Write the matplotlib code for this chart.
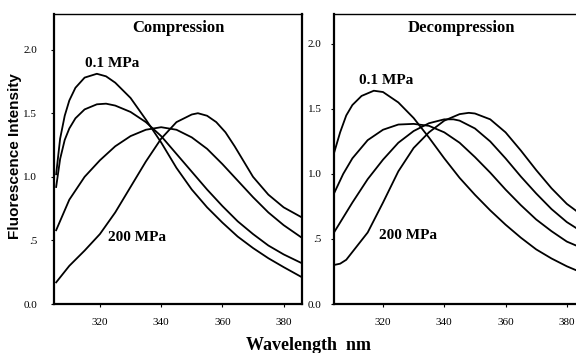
import numpy as np
import matplotlib
matplotlib.use("Agg")
import matplotlib.pyplot as plt

# compression spectra (wavelength nm, intensity)
comp_wl_a = [305.7, 307, 308.5, 310, 312, 315, 319, 322, 325, 330, 335, 340, 345, 350, 355, 360, 365, 370, 375, 380, 386]
comp_a = [1.02, 1.30, 1.48, 1.60, 1.70, 1.78, 1.81, 1.79, 1.74, 1.62, 1.45, 1.27, 1.07, 0.90, 0.76, 0.64, 0.53, 0.44, 0.36, 0.29, 0.21]

comp_wl_b = [305.7, 307, 308.5, 310, 312, 315, 319, 322, 325, 330, 335, 340, 345, 350, 355, 360, 365, 370, 375, 380, 386]
comp_b = [0.92, 1.14, 1.29, 1.38, 1.46, 1.53, 1.57, 1.575, 1.56, 1.51, 1.43, 1.32, 1.18, 1.04, 0.90, 0.77, 0.65, 0.55, 0.46, 0.39, 0.32]

comp_wl_c = [305.7, 310, 315, 320, 325, 330, 335, 340, 345, 350, 355, 360, 365, 370, 375, 380, 386]
comp_c = [0.58, 0.82, 1.00, 1.13, 1.24, 1.32, 1.37, 1.39, 1.37, 1.31, 1.22, 1.10, 0.97, 0.84, 0.72, 0.62, 0.52]

comp_wl_d = [305.7, 310, 315, 320, 325, 330, 335, 340, 345, 350, 352, 355, 358, 361, 364, 367, 370, 375, 380, 386]
comp_d = [0.17, 0.30, 0.42, 0.55, 0.72, 0.92, 1.12, 1.30, 1.43, 1.49, 1.50, 1.48, 1.43, 1.35, 1.24, 1.12, 1.00, 0.86, 0.76, 0.68]

# decompression spectra
decomp_wl_a = [304, 306, 308, 310, 313, 317, 320, 325, 330, 335, 340, 345, 350, 355, 360, 365, 370, 375, 380, 384]
decomp_a = [1.16, 1.32, 1.45, 1.53, 1.60, 1.64, 1.63, 1.55, 1.43, 1.28, 1.12, 0.97, 0.84, 0.72, 0.61, 0.51, 0.42, 0.35, 0.29, 0.25]

decomp_wl_b = [304, 307, 310, 315, 320, 325, 330, 335, 340, 345, 350, 355, 360, 365, 370, 375, 380, 384]
decomp_b = [0.85, 1.00, 1.12, 1.26, 1.34, 1.38, 1.385, 1.37, 1.32, 1.24, 1.13, 1.01, 0.88, 0.76, 0.65, 0.56, 0.48, 0.44]

decomp_wl_c = [304, 310, 315, 320, 325, 330, 335, 340, 343, 345, 350, 355, 360, 365, 370, 375, 380, 384]
decomp_c = [0.55, 0.78, 0.96, 1.11, 1.24, 1.33, 1.39, 1.42, 1.42, 1.41, 1.35, 1.25, 1.12, 0.98, 0.85, 0.73, 0.63, 0.57]

decomp_wl_d = [304, 306, 308, 310, 315, 320, 325, 330, 335, 340, 345, 348, 350, 355, 360, 365, 370, 375, 380, 384]
decomp_d = [0.30, 0.31, 0.34, 0.40, 0.55, 0.78, 1.02, 1.20, 1.32, 1.41, 1.46, 1.47, 1.465, 1.42, 1.32, 1.18, 1.03, 0.89, 0.77, 0.70]

x_ticks = [320, 340, 360, 380]
y_ticks = [0.0, 0.5, 1.0, 1.5, 2.0]
y_tick_labels = ["0.0", ".5", "1.0", "1.5", "2.0"]

serif = ["Liberation Serif", "DejaVu Serif"]

fig = plt.figure(figsize=(5.76, 3.53), dpi=100)
ax1 = fig.add_axes([54 / 576, 49 / 353, 248 / 576, 290 / 353])
ax2 = fig.add_axes([334 / 576, 49 / 353, 242 / 576, 290 / 353])


def style_axis(ax, xlim, ylim, ypad):
    ax.set_xlim(*xlim)
    ax.set_ylim(*ylim)
    ax.set_xticks(x_ticks)
    ax.set_xticklabels([str(t) for t in x_ticks], family=serif, fontsize=8)
    ax.set_yticks(y_ticks)
    ax.set_yticklabels(y_tick_labels, family=serif, fontsize=8)
    ax.tick_params(axis="x", length=2, width=0.8, pad=8)
    ax.tick_params(axis="y", length=2, width=0.8, pad=ypad)
    for side in ["left", "bottom"]:
        ax.spines[side].set_linewidth(1.6)
    ax.spines["top"].set_linewidth(1.0)
    ax.spines["right"].set_linewidth(1.6)


for wl, val in [(comp_wl_a, comp_a), (comp_wl_b, comp_b), (comp_wl_c, comp_c), (comp_wl_d, comp_d)]:
    ax1.plot(wl, val, color="black", lw=1.3)
for wl, val in [(decomp_wl_a, decomp_a), (decomp_wl_b, decomp_b), (decomp_wl_c, decomp_c), (decomp_wl_d, decomp_d)]:
    ax2.plot(wl, val, color="black", lw=1.3)

style_axis(ax1, (305, 386), (0, 2.28), 10)
style_axis(ax2, (304, 383), (0, 2.23), 7)
ax2.spines["right"].set_visible(False)

ax1.text(0.5, 0.952, "Compression", transform=ax1.transAxes, ha="center", va="center",
         family=serif, fontsize=12, fontweight="bold")
ax2.text(0.525, 0.952, "Decompression", transform=ax2.transAxes, ha="center", va="center",
         family=serif, fontsize=12, fontweight="bold")

ax1.text(324, 1.89, "0.1 MPa", ha="center", va="center", family=serif, fontsize=11, fontweight="bold")
ax1.text(332, 0.52, "200 MPa", ha="center", va="center", family=serif, fontsize=11, fontweight="bold")
ax2.text(321, 1.72, "0.1 MPa", ha="center", va="center", family=serif, fontsize=11, fontweight="bold")
ax2.text(328.2, 0.53, "200 MPa", ha="center", va="center", family=serif, fontsize=11, fontweight="bold")

fig.text(15 / 576, 1 - 156 / 353, "Fluorescence Intensity", rotation=90, ha="center", va="center",
         family=["Liberation Sans", "DejaVu Sans"], fontsize=11, fontweight="bold")
fig.text(308 / 576, 1 - 345 / 353, "Wavelength  nm", ha="center", va="center",
         family=serif, fontsize=13, fontweight="bold")

fig.savefig("out.png", dpi=100)
